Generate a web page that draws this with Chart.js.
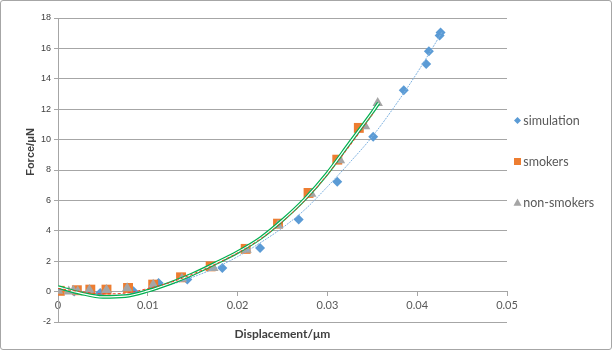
<!DOCTYPE html>
<html>
<head>
<meta charset="utf-8">
<script src="https://cdn.jsdelivr.net/npm/chart.js@4"></script>
<style>
  body { margin: 0; background: #fff; }
  #wrap { width: 610px; height: 348px; border: 1px solid #a6a6a6; border-radius: 3px; }
</style>
</head>
<body>
<div id="wrap"><canvas id="chart" width="610" height="348"></canvas></div>
<script>
// measured points
const simX = [0, 0.0018, 0.0047, 0.0084, 0.0112, 0.0144, 0.0183, 0.0225, 0.0268, 0.0311, 0.0351, 0.0385, 0.0410, 0.0413, 0.0425, 0.0426];
const simY = [0, 0, -0.09, 0.02, 0.57, 0.79, 1.56, 2.87, 4.74, 7.22, 10.18, 13.24, 14.98, 15.81, 16.85, 17.05];

const smokX = [0.0002, 0.0021, 0.0036, 0.0054, 0.0078, 0.0106, 0.0137, 0.0170, 0.0209, 0.0245, 0.0279, 0.0311, 0.0335];
const smokY = [0.05, 0.09, 0.13, 0.13, 0.24, 0.46, 0.94, 1.66, 2.81, 4.47, 6.49, 8.68, 10.77];

const nonX = [0, 0.0012, 0.0017, 0.0022, 0.0035, 0.0054, 0.0077, 0.0106, 0.0138, 0.0173, 0.0210, 0.0245, 0.0282, 0.0314, 0.0342, 0.0356];
const nonY = [0.05, 0, 0.05, 0, 0.1, 0.1, 0.22, 0.45, 0.85, 1.56, 2.76, 4.36, 6.43, 8.64, 10.88, 12.41];

// trendlines
const simTrendX = [0, 0.0025, 0.005, 0.0075, 0.01, 0.0125, 0.015, 0.0175, 0.02, 0.0225, 0.025, 0.0275, 0.03, 0.0325, 0.035, 0.0375, 0.04, 0.0428];
const simTrendY = [0.15, -0.1, -0.25, -0.2, 0.1, 0.45, 0.95, 1.55, 2.3, 3.2, 4.2, 5.4, 6.9, 8.5, 10.2, 12.2, 14.4, 17.1];

const smokTrendX = [0, 0.0025, 0.005, 0.0075, 0.01, 0.0125, 0.015, 0.0175, 0.02, 0.0225, 0.025, 0.0275, 0.03, 0.0325, 0.0352];
const smokTrendY = [0.2, 0, -0.15, -0.1, 0.2, 0.6, 1.15, 1.8, 2.55, 3.45, 4.6, 6.0, 7.7, 9.6, 11.8];

const nonTrendX = [0, 0.0025, 0.005, 0.0075, 0.01, 0.0125, 0.015, 0.0175, 0.02, 0.0225, 0.025, 0.0275, 0.03, 0.0325, 0.035, 0.0357];
const nonTrendY = [0.3, -0.1, -0.35, -0.3, 0.05, 0.55, 1.15, 1.85, 2.6, 3.5, 4.7, 6.1, 7.8, 9.8, 11.8, 12.4];

const legendNames = ["simulation", "smokers", "non-smokers"];
const legendColors = ["#5B9BD5", "#ED7D31", "#A5A5A5"];
const legendShapes = ["diamond", "square", "triangle"];

function pts(xs, ys) {
  return xs.map((x, i) => ({ x: x, y: ys[i] }));
}

function drawShape(ctx, shape, x, y, s) {
  ctx.beginPath();
  if (shape === "diamond") {
    ctx.moveTo(x, y - s); ctx.lineTo(x + s, y); ctx.lineTo(x, y + s); ctx.lineTo(x - s, y);
  } else if (shape === "square") {
    ctx.rect(x - s, y - s, 2 * s, 2 * s);
  } else {
    ctx.moveTo(x, y - s); ctx.lineTo(x + s, y + s * 0.8); ctx.lineTo(x - s, y + s * 0.8);
  }
  ctx.closePath();
  ctx.fill();
}

// axis titles + legend markers
const extras = {
  id: "extras",
  afterDraw(chart) {
    const ctx = chart.ctx;
    const area = chart.chartArea;
    ctx.save();
    ctx.fillStyle = "#404040";
    ctx.textAlign = "center";
    ctx.textBaseline = "middle";
    ctx.font = "bold 12px Lato";
    ctx.fillText("Displacement/\u03bcm", (area.left + area.right) / 2, 333);
    ctx.translate(30, 151);
    ctx.rotate(-Math.PI / 2);
    ctx.font = "bold 11px 'Liberation Sans'";
    ctx.fillText("Force/\u03bcN", 0, 0);
    ctx.restore();

    const boxes = chart.legend.legendHitBoxes;
    const sizes = [3.5, 3.5, 4];
    ctx.save();
    boxes.forEach((b, i) => {
      ctx.fillStyle = legendColors[i];
      drawShape(ctx, legendShapes[i], b.left + 2.5, b.top + b.height / 2, sizes[i]);
    });
    ctx.restore();
  }
};

const trendBase = { showLine: true, pointRadius: 0, cubicInterpolationMode: "monotone" };

const ctx = document.getElementById("chart").getContext("2d");
const chart = new Chart(ctx, {
  type: "scatter",
  data: {
    datasets: [
      Object.assign({
        label: "smokers trend", data: pts(smokTrendX, smokTrendY),
        borderColor: "#E8452C", borderWidth: 1, borderDash: [3, 2], order: 0
      }, trendBase),
      Object.assign({
        label: "non-smokers trend inner", data: pts(nonTrendX, nonTrendY),
        borderColor: "#ffffff", borderWidth: 1.2, order: 1
      }, trendBase),
      Object.assign({
        label: "non-smokers trend", data: pts(nonTrendX, nonTrendY),
        borderColor: "#00B050", borderWidth: 3.6, order: 2
      }, trendBase),
      Object.assign({
        label: "simulation trend", data: pts(simTrendX, simTrendY),
        borderColor: "#7FB2E0", borderWidth: 1, borderDash: [2, 1], order: 3
      }, trendBase),
      {
        label: "non-smokers", data: pts(nonX, nonY), pointStyle: "triangle", pointRadius: 6,
        backgroundColor: "#A5A5A5", borderColor: "#A5A5A5", borderWidth: 0, order: 4
      },
      {
        label: "smokers", data: pts(smokX, smokY), pointStyle: "rect", pointRadius: 7,
        backgroundColor: "#ED7D31", borderColor: "#ED7D31", borderWidth: 0, order: 5
      },
      {
        label: "simulation", data: pts(simX, simY), pointStyle: "rectRot", pointRadius: 5,
        backgroundColor: "#5B9BD5", borderColor: "#5B9BD5", borderWidth: 0, order: 6
      }
    ]
  },
  options: {
    responsive: false,
    animation: false,
    devicePixelRatio: 1,
    layout: { padding: { top: 17, bottom: 27, left: 0, right: 7 } },
    plugins: {
      tooltip: { enabled: false },
      legend: {
        position: "right",
        align: "start",
        maxWidth: 97,
        title: { display: true, text: "", font: { size: 10, lineHeight: 1 }, padding: { top: 68, bottom: 0 } },
        labels: {
          boxWidth: 2,
          boxHeight: 33,
          padding: 8,
          font: { family: "Lato", size: 12.5 },
          generateLabels: () => legendNames.map((name, i) => ({
            text: name,
            fillStyle: "rgba(0,0,0,0)",
            strokeStyle: "rgba(0,0,0,0)",
            lineWidth: 0,
            hidden: false,
            fontColor: "#595959",
            datasetIndex: 6 - i
          }))
        }
      }
    },
    scales: {
      x: {
        type: "linear",
        position: { y: 0 },
        min: 0,
        max: 0.05,
        ticks: {
          stepSize: 0.01,
          padding: 3,
          color: "#595959",
          font: { family: "Lato", size: 11 },
          callback: (v) => Number(v.toFixed(2)).toString()
        },
        grid: { drawOnChartArea: false, drawTicks: true, tickLength: 4, color: "#a6a6a6" },
        border: { color: "#a6a6a6" }
      },
      y: {
        min: -2,
        max: 18,
        ticks: {
          stepSize: 2,
          padding: 3,
          color: "#404040",
          font: { family: "Liberation Sans", size: 9 }
        },
        grid: { color: "#a6a6a6", tickLength: 4 },
        border: { color: "#a6a6a6" },
        afterFit: (scale) => { scale.width = 57; }
      }
    }
  },
  plugins: [extras]
});
</script>
</body>
</html>
